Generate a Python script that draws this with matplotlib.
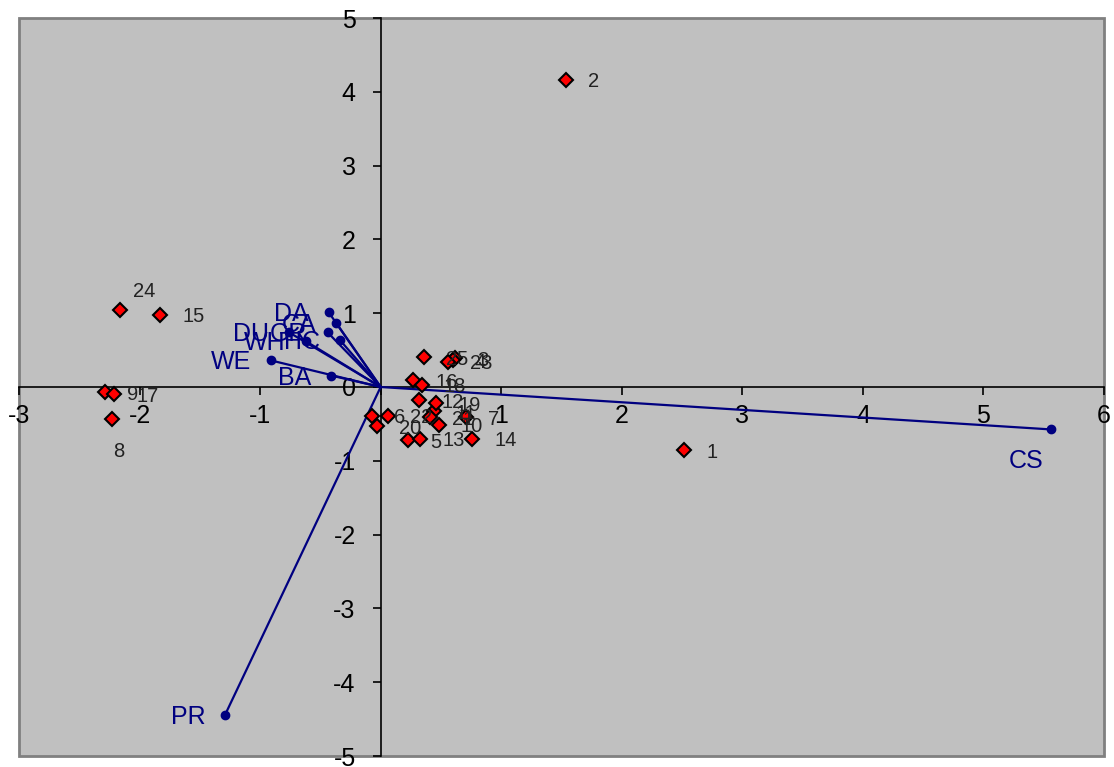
import matplotlib
matplotlib.use("Agg")
import matplotlib.pyplot as plt
from matplotlib.patches import Rectangle

# sample scores (red diamonds)
point_labels = [str(i) for i in range(1, 26)]
point_x = [2.52, 1.54, 0.62, 0.60, 0.23, -0.07, 0.71, -2.23, -2.29, 0.48,
           0.44, 0.32, 0.33, 0.76, -1.83, 0.27, -2.21, 0.34, 0.46, -0.03,
           0.41, 0.06, 0.56, -2.16, 0.36]
point_y = [-0.86, 4.16, 0.39, 0.36, -0.72, -0.39, -0.41, -0.43, -0.07, -0.51,
           -0.33, -0.18, -0.70, -0.70, 0.98, 0.09, -0.10, 0.03, -0.22, -0.53,
           -0.41, -0.39, 0.345, 1.04, 0.40]

# variable loadings (blue vectors)
var_names = ["CS", "PR", "WE", "BA", "DA", "CA", "GR", "HC", "DU", "WH"]
var_x = [5.56, -1.29, -0.91, -0.41, -0.43, -0.37, -0.44, -0.34, -0.76, -0.62]
var_y = [-0.575, -4.44, 0.36, 0.155, 1.01, 0.87, 0.74, 0.64, 0.74, 0.62]

x_ticks = [-3, -2, -1, 0, 1, 2, 3, 4, 5, 6]
y_ticks = [-5, -4, -3, -2, -1, 0, 1, 2, 3, 4, 5]

plt.rcParams['font.family'] = ['Liberation Sans', 'DejaVu Sans']

fig = plt.figure(figsize=(11.14, 7.67), dpi=100)
ax = fig.add_axes([19 / 1114, 11 / 767, 1085 / 1114, 738 / 767])
ax.set_facecolor('#C0C0C0')
ax.set_xlim(-3, 6)
ax.set_ylim(-5, 5)

navy = '#000080'
for name, vx, vy in zip(var_names, var_x, var_y):
    ax.plot([0, vx], [0, vy], color=navy, lw=1.6, zorder=3)
    ax.plot(vx, vy, 'o', color=navy, ms=6, zorder=4)
    if name == "CS":
        ax.annotate(name, (vx, vy), xytext=(-25, -32), textcoords='offset pixels',
                    ha='center', va='center', color=navy, fontsize=18, zorder=6)
    else:
        ax.annotate(name, (vx, vy), xytext=(-20, -2), textcoords='offset pixels',
                    ha='right', va='center', color=navy, fontsize=18, zorder=6)

ax.plot(point_x, point_y, 'D', color='#FF0000', mec='black', mew=1.5, ms=7.5,
        linestyle='none', zorder=5)
for lab, px, py in zip(point_labels, point_x, point_y):
    if lab == "24":
        off, ha = (13, 19), 'left'
    elif lab == "8":
        off, ha = (7, -33), 'center'
    else:
        off, ha = (22, -2), 'left'
    ax.annotate(lab, (px, py), xytext=off, textcoords='offset pixels',
                ha=ha, va='center', color='#222222', fontsize=14.5, zorder=6)

# axes crossing at the origin
for side in ['top', 'right']:
    ax.spines[side].set_visible(False)
ax.spines['left'].set_position(('data', 0))
ax.spines['bottom'].set_position(('data', 0))
ax.spines['left'].set_linewidth(1.2)
ax.spines['bottom'].set_linewidth(1.2)
ax.spines['left'].set_zorder(2)
ax.spines['bottom'].set_zorder(2)

ax.set_xticks(x_ticks)
ax.set_xticklabels(['' if t == 0 else str(t) for t in x_ticks])
ax.set_yticks(y_ticks)
ax.set_yticklabels([str(t) for t in y_ticks])
ax.tick_params(axis='x', direction='out', length=6, width=1.2, pad=6, labelsize=18)
ax.tick_params(axis='y', direction='out', length=6, width=1.2, pad=12, labelsize=18)

ax.add_patch(Rectangle((0, 0), 1, 1, transform=ax.transAxes, fill=False,
                       ec='#808080', lw=2, clip_on=False, zorder=1))

fig.savefig('out.png', dpi=100)
